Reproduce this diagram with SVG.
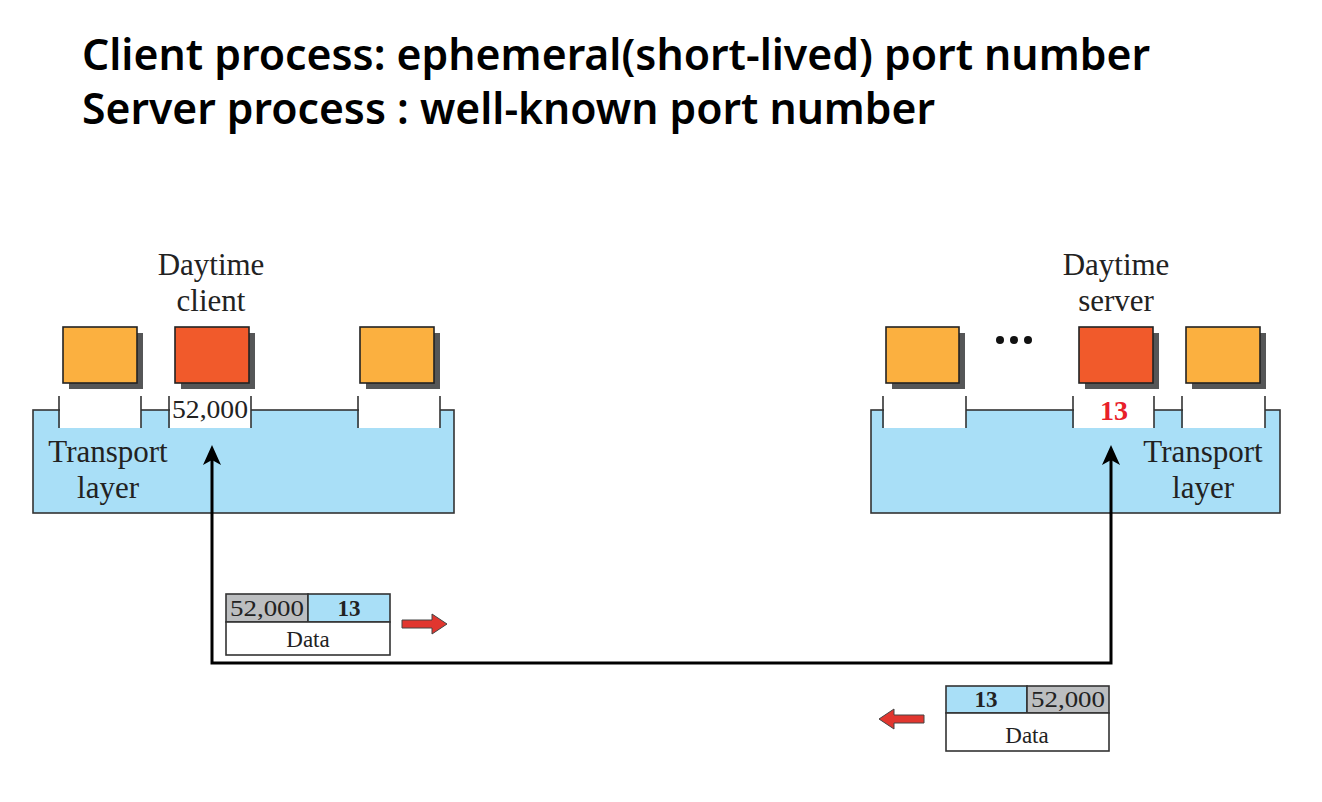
<svg xmlns="http://www.w3.org/2000/svg" width="1322" height="802" viewBox="0 0 1322 802">
<defs>
<style>
.title{font-family:"Noto Sans","Open Sans",sans-serif;font-weight:600;font-size:44px;fill:#000}
.lbl{font-family:"Liberation Serif","Times New Roman",serif;font-size:31px;fill:#222;text-anchor:middle}
.port{font-family:"Liberation Serif","Times New Roman",serif;font-size:25px;fill:#222;text-anchor:middle}
.pk{font-family:"Liberation Serif","Times New Roman",serif;font-size:23px;fill:#222;text-anchor:middle}
.pkb{font-family:"Liberation Serif","Times New Roman",serif;font-size:23px;font-weight:bold;fill:#222;text-anchor:middle}
.tl{fill:#A9DFF7;stroke:#333;stroke-width:1.6}
.slot{fill:#fff}
.tick{stroke:#333;stroke-width:1.6}
.shadow{fill:#555657}
.orange{fill:#FBB040;stroke:#222;stroke-width:1.6}
.red{fill:#F15A2B;stroke:#222;stroke-width:1.6}
.gray{fill:#BCBEC0;stroke:#333;stroke-width:1.6}
.blue{fill:#A9DFF7;stroke:#333;stroke-width:1.6}
.white{fill:#fff;stroke:#333;stroke-width:1.6}
.conn{fill:none;stroke:#000;stroke-width:3}
.rarrow{fill:#E1362F;stroke:#444;stroke-width:1}
</style>
<marker id="ah" viewBox="0 0 20 18" refX="12" refY="9" markerWidth="20" markerHeight="18" markerUnits="userSpaceOnUse" orient="auto-start-reverse">
<path d="M0,0 L20,9 L0,18 L5,9 z" fill="#000"/>
</marker>
</defs>
<rect width="1322" height="802" fill="#fff"/>

<g id="title">
<text class="title" x="82" y="70" textLength="1068" lengthAdjust="spacingAndGlyphs">Client process: ephemeral(short-lived) port number</text>
<text class="title" x="82" y="124" textLength="853" lengthAdjust="spacingAndGlyphs">Server process : well-known port number</text>
</g>

<g id="client-transport">
<rect class="tl" x="33" y="410" width="421" height="103"/>
<rect class="slot" x="60" y="408" width="81" height="20"/>
<rect class="slot" x="170" y="408" width="81" height="20"/>
<rect class="slot" x="359" y="408" width="81" height="20"/>
<line class="tick" x1="59" y1="396" x2="59" y2="428"/>
<line class="tick" x1="141" y1="396" x2="141" y2="428"/>
<line class="tick" x1="169" y1="396" x2="169" y2="428"/>
<line class="tick" x1="251" y1="396" x2="251" y2="428"/>
<line class="tick" x1="358" y1="396" x2="358" y2="428"/>
<line class="tick" x1="440" y1="396" x2="440" y2="428"/>
<text class="port" x="210" y="418" textLength="76" lengthAdjust="spacingAndGlyphs">52,000</text>
<text class="lbl" x="108" y="462">Transport</text>
<text class="lbl" x="108" y="498">layer</text>
</g>

<g id="client-proc1">
<rect class="shadow" x="69" y="333" width="74" height="56"/>
<rect class="orange" x="63" y="327" width="74" height="56"/>
</g>
<g id="daytime-client">
<rect class="shadow" x="181" y="333" width="74" height="56"/>
<rect class="red" x="175" y="327" width="74" height="56"/>
<text class="lbl" x="211" y="275">Daytime</text>
<text class="lbl" x="211" y="311">client</text>
</g>
<g id="client-proc3">
<rect class="shadow" x="366" y="333" width="74" height="56"/>
<rect class="orange" x="360" y="327" width="74" height="56"/>
</g>

<g id="server-transport">
<rect class="tl" x="871" y="410" width="409" height="103"/>
<rect class="slot" x="884" y="408" width="82" height="20"/>
<rect class="slot" x="1074" y="408" width="80" height="20"/>
<rect class="slot" x="1183" y="408" width="82" height="20"/>
<line class="tick" x1="883" y1="396" x2="883" y2="428"/>
<line class="tick" x1="966" y1="396" x2="966" y2="428"/>
<line class="tick" x1="1073" y1="396" x2="1073" y2="428"/>
<line class="tick" x1="1154" y1="396" x2="1154" y2="428"/>
<line class="tick" x1="1182" y1="396" x2="1182" y2="428"/>
<line class="tick" x1="1265" y1="396" x2="1265" y2="428"/>
<text x="1114" y="420" text-anchor="middle" font-family="Liberation Serif, Times New Roman, serif" font-size="28" font-weight="bold" fill="#E8202A">13</text>
<text class="lbl" x="1203" y="462">Transport</text>
<text class="lbl" x="1203" y="498">layer</text>
</g>

<g id="server-proc1">
<rect class="shadow" x="892" y="333" width="73" height="56"/>
<rect class="orange" x="886" y="327" width="73" height="56"/>
</g>
<g id="dots">
<circle cx="1000" cy="340" r="4" fill="#111"/>
<circle cx="1014" cy="340" r="4" fill="#111"/>
<circle cx="1028" cy="340" r="4" fill="#111"/>
</g>
<g id="daytime-server">
<rect class="shadow" x="1085" y="333" width="74" height="56"/>
<rect class="red" x="1079" y="327" width="74" height="56"/>
<text class="lbl" x="1116" y="275">Daytime</text>
<text class="lbl" x="1116" y="311">server</text>
</g>
<g id="server-proc3">
<rect class="shadow" x="1192" y="333" width="74" height="56"/>
<rect class="orange" x="1186" y="327" width="74" height="56"/>
</g>

<g id="connectors">
<path class="conn" d="M1111,453 V663 H212 V453" marker-start="url(#ah)" marker-end="url(#ah)"/>
</g>

<g id="packet-request">
<rect class="gray" x="226" y="594" width="82" height="28"/>
<rect class="blue" x="308" y="594" width="82" height="28"/>
<rect class="white" x="226" y="622" width="164" height="33"/>
<text class="pk" x="267" y="616" textLength="74" lengthAdjust="spacingAndGlyphs">52,000</text>
<text class="pkb" x="349" y="616">13</text>
<text class="pk" x="308" y="647">Data</text>
<polygon class="rarrow" points="402,620 432,620 432,614 447,624 432,634 432,628 402,628"/>
</g>

<g id="packet-response">
<rect class="blue" x="946" y="686" width="81" height="27"/>
<rect class="gray" x="1027" y="686" width="82" height="27"/>
<rect class="white" x="946" y="713" width="163" height="38"/>
<text class="pkb" x="986" y="707">13</text>
<text class="pk" x="1068" y="707" textLength="74" lengthAdjust="spacingAndGlyphs">52,000</text>
<text class="pk" x="1027" y="743">Data</text>
<polygon class="rarrow" points="924,715 894,715 894,709 879,719 894,729 894,723 924,723"/>
</g>
</svg>
